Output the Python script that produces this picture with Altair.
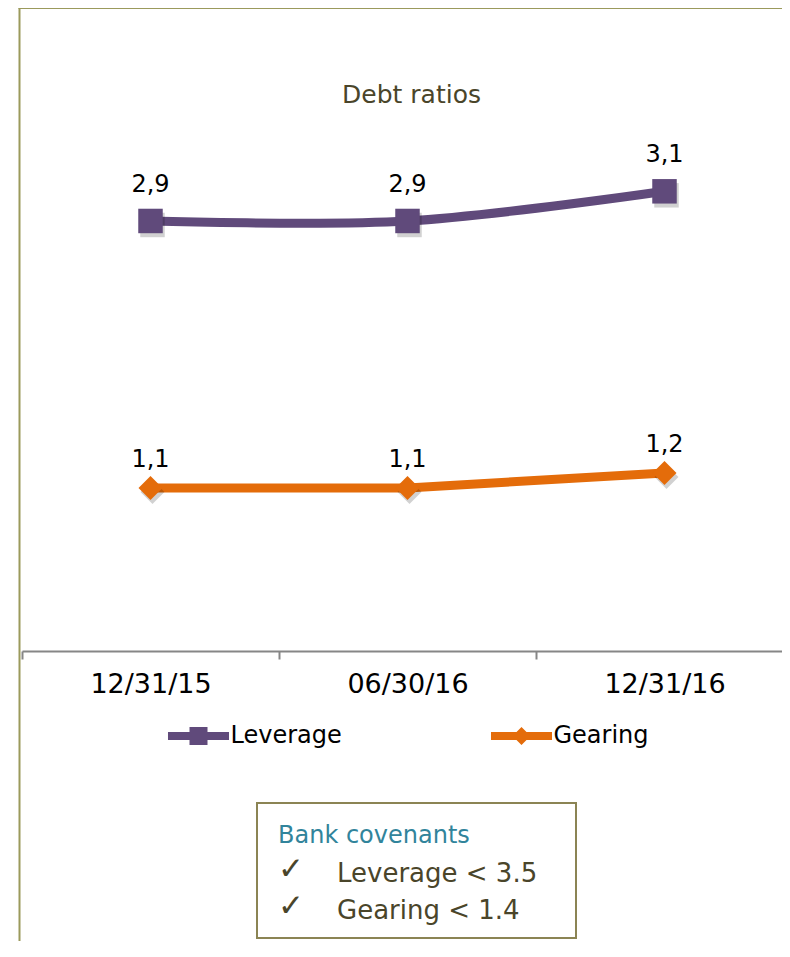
import altair as alt
import pandas as pd

# ---- data ----
dates = ["12/31/15", "06/30/16", "12/31/16"]
leverage = [2.9, 2.9, 3.1]
gearing = [1.1, 1.1, 1.2]
series_names = ["Leverage", "Gearing"]
series_colors = ["#604A7B", "#E46C0A"]
chart_title = "Debt ratios"
covenant_heading = "Bank covenants"
covenant_lines = ["Leverage < 3.5", "Gearing < 1.4"]
check_marks = ["\u2713", "\u2713"]

# legend symbols: line with square / line with diamond (unit coords)
legend_shapes = [
    "M-3.39,-0.44L3.39,-0.44L3.39,0.44L-3.39,0.44Z M-1,-1L1,-1L1,1L-1,1Z",
    "M-3.39,-0.44L3.39,-0.44L3.39,0.44L-3.39,0.44Z M-1,0L0,-1L1,0L0,1Z",
]

rows = []
for d, v in zip(dates, leverage):
    rows.append({"date": d, "series": "Leverage", "value": v})
for d, v in zip(dates, gearing):
    rows.append({"date": d, "series": "Gearing", "value": v})
df = pd.DataFrame(rows)

FONT = "DejaVu Sans"
DARK = "#4A452A"

x_enc = alt.X(
    "date:N",
    sort=dates,
    scale=alt.Scale(type="band", domain=dates, paddingInner=0, paddingOuter=0,
                    range=[0, 771]),
    axis=alt.Axis(
        title=None, labelAngle=0, labelFont=FONT, labelFontSize=27,
        labelColor="#000000", labelPadding=12, domainColor="#868686",
        domainWidth=2, tickColor="#868686", tickWidth=2, tickSize=8,
        tickBand="extent", grid=False,
    ),
)
y_enc = alt.Y("value:Q", scale=alt.Scale(domain=[0, 3.5], nice=False, zero=True), axis=None)
color_scale = alt.Scale(domain=series_names, range=series_colors)

base = alt.Chart(df).transform_calculate(
    label="replace(format(datum.value, '.1f'), '.', ',')"
)

lev = base.transform_filter(alt.datum.series == series_names[0])
gear = base.transform_filter(alt.datum.series == series_names[1])

lev_line = lev.mark_line(strokeWidth=9, interpolate="catmull-rom",
                         color=series_colors[0]).encode(x=x_enc, y=y_enc)
gear_line = gear.mark_line(strokeWidth=9, color=series_colors[1]).encode(x=x_enc, y=y_enc)

lev_shadow = lev.mark_point(filled=True, shape="square", size=600, opacity=0.18,
                            color="#000000", xOffset=2, yOffset=4).encode(x=x_enc, y=y_enc)
gear_shadow = gear.mark_point(filled=True, shape="diamond", size=576, opacity=0.18,
                              color="#000000", xOffset=2, yOffset=4).encode(x=x_enc, y=y_enc)

lev_pts = lev.mark_point(filled=True, shape="square", size=600, opacity=1,
                         color=series_colors[0]).encode(x=x_enc, y=y_enc)
gear_pts = gear.mark_point(filled=True, shape="diamond", size=576, opacity=1,
                           color=series_colors[1]).encode(x=x_enc, y=y_enc)

lev_lbl = lev.mark_text(font=FONT, fontSize=24, color="#000000", baseline="alphabetic",
                        dy=-29).encode(x=x_enc, y=y_enc, text="label:N")
gear_lbl = gear.mark_text(font=FONT, fontSize=24, color="#000000", baseline="alphabetic",
                          dy=-21).encode(x=x_enc, y=y_enc, text="label:N")

legend_spec = dict(
    orient="none", legendX=143, legendY=592, direction="horizontal",
    symbolSize=324, symbolStrokeWidth=0, symbolOffset=21.5, symbolOpacity=1,
    labelOffset=20, columnPadding=146, labelFont=FONT, labelFontSize=24,
    labelColor="#000000", padding=0, labelLimit=300,
)
# invisible marks that only carry the legend (line + marker symbols)
legend_layer = base.mark_point(filled=True, opacity=0).encode(
    x=x_enc, y=y_enc,
    color=alt.Color("series:N", scale=color_scale, title="", legend=alt.Legend(**legend_spec)),
    shape=alt.Shape("series:N", scale=alt.Scale(domain=series_names, range=legend_shapes),
                    title="", legend=alt.Legend(**legend_spec)),
)

one = alt.Data(values=[{}])
frame_left = alt.Chart(one).mark_rule(color="#9B9A5C", strokeWidth=2).encode(
    x=alt.value(-2.5), y=alt.value(-126), y2=alt.value(812)
)
frame_top = alt.Chart(one).mark_rule(color="#9B9A5C", strokeWidth=2).encode(
    x=alt.value(-3.5), x2=alt.value(790), y=alt.value(-124)
)
title_txt = alt.Chart(one).mark_text(font=FONT, fontSize=25, color=DARK, align="center",
                                     baseline="alphabetic").encode(
    x=alt.value(389.5), y=alt.value(-29), text=alt.value(chart_title)
)
box = alt.Chart(one).mark_rect(fillOpacity=0, stroke="#8B8454", strokeWidth=2).encode(
    x=alt.value(235), x2=alt.value(554), y=alt.value(671), y2=alt.value(806)
)
heading = alt.Chart(one).mark_text(font=FONT, fontSize=24, color="#31849B", align="left",
                                   baseline="alphabetic").encode(
    x=alt.value(256), y=alt.value(711), text=alt.value(covenant_heading)
)
checks = alt.Chart(one).mark_text(font=FONT, fontSize=31, color=DARK, align="left",
                                  baseline="alphabetic", lineHeight=37).encode(
    x=alt.value(256), y=alt.value(747), text=alt.value(check_marks)
)
lines_txt = alt.Chart(one).mark_text(font=FONT, fontSize=26, color=DARK, align="left",
                                     baseline="alphabetic", lineHeight=37).encode(
    x=alt.value(315), y=alt.value(750), text=alt.value(covenant_lines)
)

chart = alt.layer(
    frame_left, frame_top, title_txt,
    lev_line, gear_line, lev_shadow, gear_shadow, lev_pts, gear_pts,
    lev_lbl, gear_lbl, legend_layer,
    box, heading, checks, lines_txt,
).properties(
    width=760,
    height=519,
    padding={"left": 14, "top": 124, "right": 0, "bottom": 290},
    autosize=alt.AutoSizeParams(type="none"),
).configure_view(strokeWidth=0, strokeOpacity=0)

chart.save("out.html", embed_options={"renderer": "svg", "actions": False})
